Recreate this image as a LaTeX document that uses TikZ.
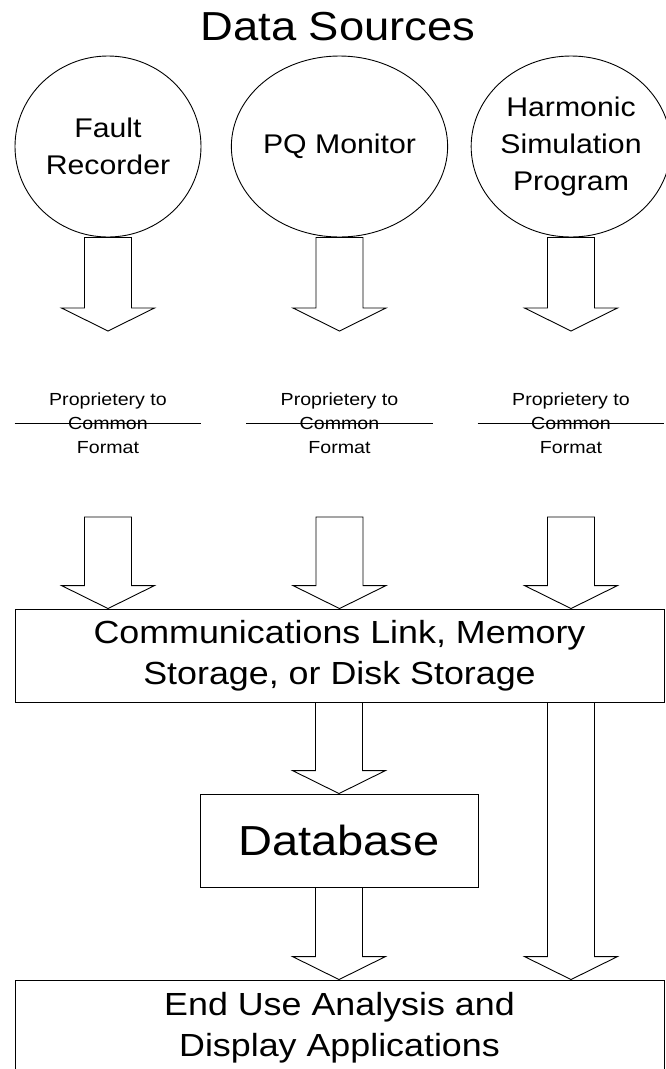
\documentclass[tikz,border=0pt]{standalone}
\usepackage{fontspec}
\setmainfont{Liberation Sans}[FakeStretch=1.12]
\usetikzlibrary{calc, shapes.geometric}

% hollow block arrow from #1 down to tip #2
\newcommand{\blockarrow}[2]{%
	\draw[blk] ($(#1)+(-23.5,0)$) -- ($(#2)+(-23.5,-23)$) -- ($(#2)+(-46.5,-23)$) -- (#2)
	-- ($(#2)+(46.5,-23)$) -- ($(#2)+(23.5,-23)$) -- ($(#1)+(23.5,0)$) -- cycle;}

\begin{document}
\begin{tikzpicture}[x=1pt, y=-1pt, line width=0.9pt]
		
		\tikzstyle{src}=[ellipse, draw, minimum width=186, minimum height=181, inner sep=0, align=center, font=\fontsize{27}{37}\selectfont]
		\tikzstyle{conv}=[minimum width=186, inner sep=0, align=center, font=\fontsize{17.5}{24}\selectfont]
		\tikzstyle{store}=[rectangle, draw, inner sep=0, align=center, font=\fontsize{32}{41}\selectfont]
		\tikzstyle{blk}=[draw, fill=white]
		\useasboundingbox (0,0) rectangle (665,1069);
		
		\node[font=\fontsize{40.5}{44}\selectfont] (title) at (338,27) {Data Sources};
		% data sources
		\node[src] (src1) at (108,146.5) {Fault\\Recorder};
		\node[src] (src2) at (339.5,146.5) {PQ Monitor};
		\node[src] (src3) at (571,146.5) {Harmonic\\Simulation\\Program};
		% conversion
		\node[conv] (conv1) at (108,423) {Proprietery to\\Common\\Format};
		\node[conv] (conv2) at (339.5,423) {Proprietery to\\Common\\Format};
		\node[conv] (conv3) at (571,423) {Proprietery to\\Common\\Format};
		\draw (conv1.west) -- (conv1.east);
		\draw (conv2.west) -- (conv2.east);
		\draw (conv3.west) -- (conv3.east);
		% storage and end use
		\node[store, minimum width=649, minimum height=93] (comm) at (339.5,655.5) {Communications Link, Memory\\Storage, or Disk Storage};
		\node[store, minimum width=278, minimum height=93, font=\fontsize{42}{48}\selectfont] (db) at (339,840.5) {Database};
		\node[store, minimum width=649, minimum height=95] (enduse) at (339.5,1027.5) {End Use Analysis and\\Display Applications};
		
		\coordinate (tip1) at (108,331);
		\coordinate (tip2) at (339.5,331);
		\coordinate (tip3) at (571,331);
		\coordinate (tail1) at (108,517);
		\coordinate (tail2) at (339.5,517);
		\coordinate (tail3) at (571,517);
		\coordinate (in1) at (tail1 |- comm.north);
		\coordinate (in2) at (tail2 |- comm.north);
		\coordinate (in3) at (tail3 |- comm.north);
		\coordinate (out2) at (db |- comm.south);
		\coordinate (out3) at (tail3 |- comm.south);
		\coordinate (in4) at (db |- enduse.north);
		\coordinate (in5) at (tail3 |- enduse.north);
		
		% data flow
		\blockarrow{src1.south}{tip1}
		\blockarrow{src2.south}{tip2}
		\blockarrow{src3.south}{tip3}
		\blockarrow{tail1}{in1}
		\blockarrow{tail2}{in2}
		\blockarrow{tail3}{in3}
		\blockarrow{out2}{db.north}
		\blockarrow{db.south}{in4}
		\blockarrow{out3}{in5}
		
\end{tikzpicture}
\end{document}
